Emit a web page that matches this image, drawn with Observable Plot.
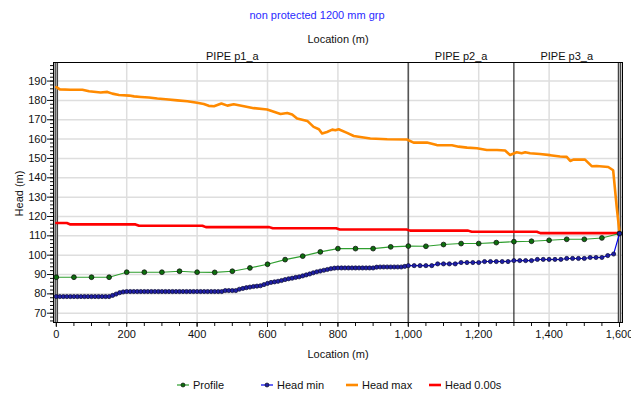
<!DOCTYPE html>
<html>
<head>
<meta charset="utf-8">
<script src="https://cdn.jsdelivr.net/npm/d3@7"></script>
<script src="https://cdn.jsdelivr.net/npm/@observablehq/plot@0.6"></script>
<style>
  body { margin: 0; background: #fff; font-family: "Liberation Sans", Arial, sans-serif; }
  #wrap { position: relative; width: 631px; height: 396px; overflow: hidden; background: #fff; }
  #chart { position: absolute; left: 0; top: 0; }
  #legend { position: absolute; left: 0; top: 378px; width: 631px; height: 16px; font-size: 11px; color: #111; }
  .item { position: absolute; top: 0; height: 14px; display: flex; align-items: center; gap: 3px; white-space: nowrap; }
</style>
</head>
<body>
<div id="wrap"><div id="chart"></div><div id="legend"></div></div>
<script>
// ---- Chart texts ----
const title = "non protected 1200 mm grp";
const xLabel = "Location (m)";
const yLabel = "Head (m)";

// ---- Pipes along the profile ----
const pipeNames = ["PIPE p1_a", "PIPE p2_a", "PIPE p3_a"];
const pipeStart = [0, 1000, 1300];
const pipeEnd = [1000, 1300, 1600];

// ---- Axis ticks ----
const xTicks = [0, 200, 400, 600, 800, 1000, 1200, 1400, 1600];
const xMinorTicks = d3.range(0, 1601, 50);
const yTicks = [70, 80, 90, 100, 110, 120, 130, 140, 150, 160, 170, 180, 190];
const yMinorTicks = d3.range(66, 200, 2);

// ---- Profile (pipe elevation) ----
const profileLoc = [0, 50, 100, 150, 200, 250, 300, 350, 400, 450, 500, 550, 600, 650, 700, 750, 800,
  850, 900, 950, 1000, 1050, 1100, 1150, 1200, 1250, 1300, 1350, 1400, 1450, 1500, 1550, 1600];
const profileHead = [88.6, 88.6, 88.6, 88.6, 91.2, 91.2, 91.2, 91.7, 91.2, 91.1, 91.7, 93.4, 95.3, 97.7, 99.5, 101.7, 103.4,
  103.4, 103.4, 104.3, 104.7, 104.6, 105.5, 106.0, 106.0, 106.5, 107.0, 107.2, 107.7, 108.2, 108.2, 108.9, 111.2];

// ---- Head min, one value per computational node of each pipe ----
const headMinP1 = [
  78.6, 78.6, 78.6, 78.6, 78.6, 78.6, 78.6, 78.6, 78.6, 78.6, 78.6, 78.6, 78.6, 78.6, 78.6, 78.6,
  79.2, 79.9, 80.6, 81.0,
  81.2, 81.2, 81.2, 81.2, 81.2, 81.2, 81.2, 81.2, 81.2, 81.2, 81.2, 81.2, 81.2, 81.2,
  81.2, 81.2, 81.2, 81.2, 81.2, 81.2, 81.2, 81.2, 81.2, 81.2, 81.2, 81.2, 81.2, 81.2,
  81.7, 81.7, 81.7, 81.7,
  82.4, 82.8, 83.2, 83.5, 83.8, 84.0, 84.2, 84.8, 85.4, 85.9, 86.2, 86.5, 86.9, 87.4, 87.8,
  88.1, 88.5, 88.8, 89.3, 89.8, 90.3, 90.9, 91.4, 91.8, 92.2, 92.6, 93.0, 93.3, 93.4,
  93.4, 93.4, 93.4, 93.4, 93.4, 93.4, 93.4, 93.4, 93.4, 93.4,
  93.8, 93.9, 93.9, 93.9, 93.9, 93.9, 93.9, 93.9, 94.2, 94.6
];
const headMinP2 = [94.6, 94.6, 94.6, 94.6, 94.6, 95.5, 95.5, 95.5, 95.5, 96.2, 96.2, 96.2, 96.2,
  96.7, 96.7, 96.7, 96.7, 96.7, 97.2];
const headMinP3 = [97.2, 97.2, 97.2, 97.2, 97.8, 97.8, 97.8, 97.8, 97.8, 98.3, 98.3, 98.3, 98.3,
  98.8, 98.8, 98.8, 99.8, 100.6, 111.2];

// ---- Head max envelope ----
const headMaxLoc = [0, 10, 40, 74, 93, 126, 145, 159, 178, 207, 221, 240, 263, 287, 311, 344, 372, 400, 419, 433,
  448, 469, 486, 504, 533, 561, 599, 637, 656, 670, 684, 713, 731, 746, 755, 769, 784, 793, 802, 826,
  845, 873, 892, 940, 996, 1015, 1053, 1081, 1124, 1143, 1167, 1195, 1223, 1252, 1275, 1289, 1308, 1322,
  1332, 1346, 1374, 1403, 1431, 1450, 1460, 1469, 1502, 1521, 1535, 1568, 1582, 1592, 1600];
const headMaxVal = [186.9, 185.7, 185.5, 185.5, 184.7, 184.1, 184.4, 183.5, 182.8, 182.5, 182.1, 181.8, 181.5, 181.0,
  180.6, 180.0, 179.6, 178.8, 178.1, 177.2, 177.0, 178.4, 177.3, 178.0, 177.0, 176.0, 175.3, 173.0, 173.5, 172.7,
  170.6, 169.4, 166.3, 165.1, 162.9, 163.7, 164.9, 164.6, 165.1, 163.2, 161.6, 160.8, 160.3, 159.9, 159.8, 158.2,
  158.2, 156.9, 156.8, 156.1, 155.6, 155.3, 154.4, 154.4, 154.1, 151.8, 153.2, 152.7, 153.2, 152.7, 152.3, 151.7,
  151.0, 150.8, 148.7, 149.4, 149.4, 146.0, 146.1, 145.6, 143.9, 125.0, 111.8];

// ---- Head at t = 0.00 s ----
const head0Loc = [0, 30, 40, 225, 235, 415, 425, 605, 615, 795, 805, 995, 1005, 1170, 1180, 1365, 1375, 1600];
const head0Val = [116.6, 116.6, 115.9, 115.9, 115.2, 115.2, 114.5, 114.5, 113.9, 113.9, 113.3, 113.3,
  112.7, 112.7, 112.1, 112.1, 111.4, 111.4];

// ---- Colours ----
const cProfileLine = "#2f9f2f", cProfileDot = "#0d6f0d";
const cMinLine = "#0000ee", cMinDot = "#1f1fa6";
const cMax = "#ff8a00", cHead0 = "#ff0000";

// ---- Tables for the marks ----
const zip = (xs, ys) => xs.map((x, i) => ({loc: x, head: ys[i]}));
const pipes = pipeNames.map((name, i) => ({name, start: pipeStart[i], end: pipeEnd[i]}));
const nodes = (vals, i) => vals.map((v, k) => ({
  loc: pipeStart[i] + k * (pipeEnd[i] - pipeStart[i]) / (vals.length - 1), head: v
}));
const headMin = [...nodes(headMinP1, 0), ...nodes(headMinP2, 1).slice(1), ...nodes(headMinP3, 2).slice(1)];
const profile = zip(profileLoc, profileHead);
const headMax = zip(headMaxLoc, headMaxVal);
const head0 = zip(head0Loc, head0Val);
const boundaries = [...pipeStart, pipeEnd[pipeEnd.length - 1]];
const outerBounds = [boundaries[0], boundaries[boundaries.length - 1]];

const chart = Plot.plot({
  width: 631,
  height: 372,
  marginTop: 62,
  marginRight: 9,
  marginBottom: 50,
  marginLeft: 53,
  style: {fontFamily: "'Liberation Sans', Arial, sans-serif", fontSize: "11px", color: "#111", background: "#fff", overflow: "visible"},
  x: {domain: [-8, 1608.5], label: null},
  y: {domain: [65.2, 199.6], label: null},
  marks: [
    // grid
    Plot.ruleY(yTicks, {stroke: "#dedede", strokeWidth: 1.5}),
    Plot.ruleX(xTicks, {stroke: "#dedede", strokeWidth: 1.5}),
    // axes
    Plot.axisY({ticks: yMinorTicks, tickSize: 3, tickFormat: () => "", label: null}),
    Plot.axisY({ticks: yTicks, tickSize: 6, tickPadding: 1, label: null}),
    Plot.axisX({ticks: xMinorTicks, tickSize: 4, tickFormat: () => "", label: null}),
    Plot.axisX({ticks: xTicks, tickSize: 5, tickPadding: 3, tickFormat: d3.format(","), label: null}),
    // pipe boundaries
    Plot.ruleX([1000], {stroke: "#555", strokeWidth: 1.6}),
    Plot.ruleX([1300], {stroke: "#000", strokeWidth: 1}),
    Plot.ruleX(outerBounds, {stroke: "#444", strokeWidth: 3.5}),
    Plot.ruleX(outerBounds, {stroke: "#bbb", strokeWidth: 1}),
    // series
    Plot.line(headMax, {x: "loc", y: "head", stroke: cMax, strokeWidth: 2.6}),
    Plot.line(head0, {x: "loc", y: "head", stroke: cHead0, strokeWidth: 2.6}),
    Plot.line(profile, {x: "loc", y: "head", stroke: cProfileLine, strokeWidth: 1.1}),
    Plot.dot(profile, {x: "loc", y: "head", r: 2.4, fill: cProfileDot, stroke: "#111", strokeWidth: 0.8}),
    Plot.line(headMin, {x: "loc", y: "head", stroke: cMinLine, strokeWidth: 1.1}),
    Plot.dot(headMin, {x: "loc", y: "head", r: 2.1, fill: cMinDot, stroke: "#0a0a30", strokeWidth: 0.7}),
    Plot.frame({stroke: "#000", strokeWidth: 1}),
    // labels
    Plot.text(pipes, {x: d => (d.start + d.end) / 2, text: "name", frameAnchor: "top", lineAnchor: "bottom", dy: -3, fill: "#111"}),
    Plot.text([xLabel], {text: d => d, frameAnchor: "top", lineAnchor: "middle", dy: -23, fill: "#111"}),
    Plot.text([title], {text: d => d, frameAnchor: "top", lineAnchor: "middle", dx: -21, dy: -47, fill: "#2a2aff"}),
    Plot.text([xLabel], {text: d => d, frameAnchor: "bottom", lineAnchor: "middle", dy: 32, fill: "#111"}),
    Plot.text([yLabel], {text: d => d, frameAnchor: "left", textAnchor: "middle", lineAnchor: "middle", dx: -34, dy: 1, rotate: -90, fill: "#111"})
  ]
});
document.getElementById("chart").appendChild(chart);

// ---- Legend ----
const legendItems = [
  {label: "Profile", line: cProfileLine, dot: cProfileDot, width: 1.2, left: 176},
  {label: "Head min", line: cMinLine, dot: cMinDot, width: 1.2, left: 260},
  {label: "Head max", line: cMax, dot: null, width: 2.6, left: 345},
  {label: "Head 0.00s", line: cHead0, dot: null, width: 2.6, left: 428}
];
const legend = d3.select("#legend");
for (const it of legendItems) {
  const item = legend.append("div").attr("class", "item").style("left", it.left + "px");
  const sw = item.append("svg").attr("width", 14).attr("height", 10);
  sw.append("line").attr("x1", 1).attr("x2", 13).attr("y1", 5).attr("y2", 5)
    .attr("stroke", it.line).attr("stroke-width", it.width);
  if (it.dot) sw.append("circle").attr("cx", 7).attr("cy", 5).attr("r", 2)
    .attr("fill", it.dot).attr("stroke", "#111").attr("stroke-width", 0.7);
  item.append("span").text(it.label);
}
</script>
</body>
</html>
